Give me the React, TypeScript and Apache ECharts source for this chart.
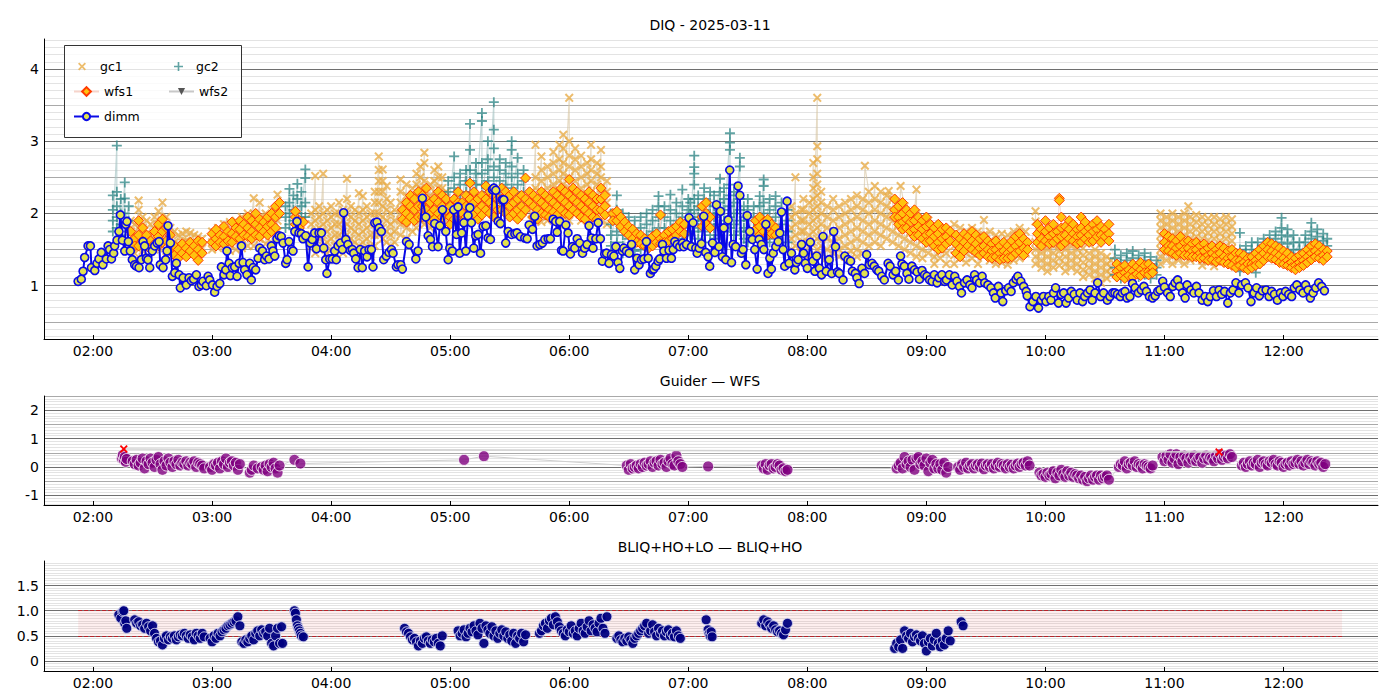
import React, { useEffect, useRef } from "react";
import * as echarts from "echarts";

// ---------- text ----------
const TITLE_TOP = "DIQ - 2025-03-11";
const TITLE_MID = "Guider \u2014 WFS";
const TITLE_BOT = "BLIQ+HO+LO \u2014 BLIQ+HO";

// ---------- axes (time in minutes after 00:00) ----------
const X_MIN = 95.3;
const X_MAX = 767.6;
const X_TICKS = [120, 180, 240, 300, 360, 420, 480, 540, 600, 660, 720];
const Y_TOP = [0.262, 4.415];
const Y_TOP_TICKS = [1, 2, 3, 4];
const Y_MID = [-1.34, 2.5];
const Y_MID_TICKS = [-1, 0, 1, 2];
const Y_BOT = [-0.2, 1.99];
const Y_BOT_TICKS = [0, 0.5, 1.0, 1.5];

// ---------- DIMM seeing [minute, value] ----------
const dimm: number[][] = [
[112.5,1.06],[114.1,1.09],[115.0,1.20],[115.8,1.39],[117.5,1.55],[118.7,1.55],[119.2,1.25],[120.9,1.21],[122.0,1.31],[123.0,1.37],[124.2,1.46],[125.0,1.29],[126.7,1.37],[127.6,1.55],[128.4,1.50],[129.3,1.37],[130.4,1.45],[130.9,1.55],[132.1,1.63],[133.1,1.75],[133.8,1.98],[134.8,1.63],[136.0,1.48],[136.5,1.85],[137.1,1.89],[137.8,1.61],[138.8,1.48],[139.8,1.36],[141.0,1.29],[141.9,1.27],[143.2,1.25],[144.4,1.36],[145.2,1.61],[146.0,1.55],[146.9,1.38],[147.7,1.36],[148.6,1.25],[149.9,1.48],[151.1,1.55],[152.3,1.59],[153.3,1.61],[153.9,1.29],[155.3,1.25],[156.6,1.36],[157.3,1.48],[157.8,1.83],[159.0,1.59],[160.0,1.13],[161.2,1.18],[162.0,1.31],[163.4,1.15],[164.0,0.97],[165.4,1.11],[167.0,1.01],[168.4,1.11],[169.6,1.07],[170.7,1.09],[172.1,1.15],[173.4,0.99],[174.6,1.01],[175.4,1.06],[177.1,1.00],[178.0,1.13],[178.8,1.08],[180.2,1.01],[181.3,0.91],[182.5,0.99],[183.9,1.03],[184.7,1.26],[186.0,1.15],[186.9,1.22],[187.5,1.48],[188.6,1.31],[189.2,1.14],[190.2,1.25],[191.4,1.26],[192.6,1.13],[193.6,1.31],[194.8,1.55],[195.6,1.32],[196.4,1.22],[197.6,1.15],[199.0,1.31],[199.8,1.08],[200.7,1.25],[202.0,1.22],[203.2,1.38],[204.0,1.52],[205.4,1.48],[206.5,1.36],[207.4,1.41],[208.7,1.37],[209.9,1.55],[210.7,1.48],[211.6,1.41],[212.7,1.65],[213.8,1.69],[214.9,1.68],[215.8,1.59],[217.1,1.31],[217.8,1.36],[218.8,1.61],[220.0,1.50],[220.8,1.48],[221.7,1.75],[222.8,1.89],[223.8,1.73],[225.0,1.72],[225.8,1.65],[227.2,1.69],[228.4,1.26],[229.5,1.59],[230.5,1.64],[231.7,1.73],[232.6,1.51],[233.9,1.73],[235.1,1.73],[236.3,1.52],[237.3,1.36],[237.9,1.17],[239.3,1.37],[240.6,1.37],[241.8,1.48],[242.6,1.36],[243.5,1.55],[244.7,1.59],[245.7,1.50],[246.3,2.01],[247.4,1.64],[248.5,1.57],[249.7,1.49],[250.7,1.50],[251.4,1.45],[252.4,1.37],[253.6,1.25],[254.7,1.50],[255.7,1.25],[256.9,1.48],[258.1,1.40],[259.1,1.50],[260.3,1.50],[261.1,1.26],[262.0,1.87],[263.1,1.88],[264.2,1.80],[265.3,1.75],[266.5,1.36],[267.8,1.41],[269.2,1.46],[270.4,1.50],[271.2,1.45],[272.9,1.26],[273.7,1.29],
[275.1,1.29],[275.9,1.23],[278.0,1.61],[279.3,1.57],[282.7,1.37],[283.8,1.48],[286.0,2.21],[287.7,1.95],[288.9,1.69],[290.1,1.64],[291.1,1.54],[292.2,1.86],[293.9,1.54],[294.8,1.83],[296.1,2.05],[297.8,1.75],[299.0,1.36],[299.8,1.52],[301.1,1.48],[301.8,2.05],[303.2,1.71],[304.0,2.09],[304.8,1.45],[305.8,1.73],[306.9,1.87],[307.9,1.48],[309.0,1.97],[309.9,2.08],[310.7,1.87],[311.9,1.52],[312.9,1.69],[314.1,1.71],[315.3,1.45],[316.6,1.82],[318.0,1.83],[319.1,1.66],[320.3,1.64],[321.3,2.33],[322.0,2.35],[323.0,2.32],[324.2,1.89],[325.3,1.86],[326.3,2.19],[327.0,2.19],[328.0,1.59],[329.2,1.75],[330.9,1.71],[332.6,1.72],[333.7,1.73],[335.4,1.68],[337.6,1.66],[338.8,1.65],[339.8,1.84],[341.5,1.78],[342.6,1.96],[343.8,1.55],[345.2,1.57],[346.5,1.59],[347.7,1.64],[349.4,1.65],[350.5,1.65],[351.9,1.92],[353.2,1.89],[353.9,1.74],[355.2,1.89],[356.1,1.49],[356.9,1.48],[358.3,1.84],[359.4,1.73],[360.6,1.44],[361.6,1.54],[362.8,1.52],[364.0,1.65],[365.3,1.59],[366.7,1.45],[367.8,1.52],[369.0,1.57],[370.0,1.83],[371.2,1.66],[372.0,1.52],[373.4,1.65],[374.6,1.87],[375.7,1.65],[376.7,1.34],[377.9,1.44],[378.8,1.45],[380.1,1.31],[381.3,1.43],[382.5,1.41],[383.5,1.54],[384.6,1.32],[385.5,1.24],[386.8,1.48],[387.5,1.52],[388.8,1.48],[390.2,1.45],[391.4,1.57],[393.0,1.22],[394.2,1.38],[395.2,1.29],[396.4,1.36],[397.6,1.37],[398.9,1.61],[399.8,1.38],[400.9,1.17],[401.9,1.22],[402.6,1.23],[403.6,1.27],[404.8,1.34],[405.6,1.37],[407.0,1.57],[407.7,1.48],[409.0,1.38],[410.3,1.49],[411.5,1.38],[412.4,1.50],[413.2,1.61],[414.4,1.57],[415.7,1.54],[417.1,1.59],[417.7,1.54],[419.1,1.57],[420.4,1.94],[421.6,1.54],[422.4,1.87],[423.8,1.52],[424.5,1.45],[425.5,1.52],[426.6,1.58],[427.8,1.96],[428.8,1.46],[430.0,1.40],[430.8,1.27],[432.2,1.59],[433.4,1.46],[434.2,2.12],[435.5,1.54],[436.2,2.03],[437.2,1.40],[437.9,1.80],[438.9,1.36],[440.1,1.91],[440.9,2.60],[441.8,1.32],[442.6,1.57],[443.9,1.54],[445.1,2.38],[446.0,2.25],[446.8,1.45],[447.6,1.50],[449.0,1.29],[449.7,1.97],[451.0,1.75],[452.3,1.64],[453.5,1.50],[454.7,1.23],[455.7,1.64],[456.9,1.57],[458.1,1.50],[459.1,1.85],[460.2,1.17],[461.1,1.38],[461.9,1.23],[462.8,1.45],[464.1,1.54],[465.3,1.61],[466.1,1.73],[467.0,2.02],[467.8,1.50],[468.6,1.27],[469.8,2.17],[470.8,1.31],[472.0,1.45],[473.7,1.22],[474.5,1.32],[475.4,1.36],
[477.1,1.57],[478.1,1.45],[479.0,1.31],[480.0,1.24],[481.5,1.60],[482.8,1.34],[483.8,1.20],[484.7,1.41],[486.1,1.24],[487.2,1.15],[487.9,1.68],[489.5,1.20],[491.0,1.36],[492.3,1.17],[493.3,1.75],[494.2,1.54],[495.2,1.19],[496.1,1.17],[498.0,1.08],[498.9,1.41],[500.5,1.36],[501.8,1.34],[502.7,1.20],[504.2,1.17],[505.0,1.11],[506.1,1.03],[507.5,1.24],[508.8,1.17],[509.9,1.43],[511.3,1.29],[512.6,1.31],[513.7,1.27],[515.0,1.22],[516.0,1.20],[517.5,1.13],[518.8,1.08],[520.7,1.31],[521.7,1.27],[523.2,1.15],[524.5,1.20],[525.9,1.08],[527.0,1.41],[527.7,1.30],[528.9,1.27],[530.2,1.17],[531.2,1.09],[532.7,1.27],[534.0,1.22],[535.3,1.19],[536.5,1.09],[537.8,1.21],[539.1,1.15],[540.3,1.13],[541.6,1.08],[542.9,1.06],[544.0,1.15],[545.4,1.04],[546.3,1.11],[547.8,1.15],[549.2,1.06],[550.1,1.08],[551.6,1.15],[553.0,1.01],[554.3,1.13],[555.4,1.06],[556.7,0.99],[557.7,0.90],[559.2,1.04],[560.5,1.08],[561.9,1.01],[563.0,0.97],[564.3,1.15],[565.3,1.08],[566.8,1.04],[568.1,1.13],[569.4,1.04],[571.0,1.01],[572.5,0.97],[573.8,0.90],[574.7,0.83],[576.3,0.99],[577.6,0.90],[578.5,0.78],[580.0,0.93],[581.4,0.97],[582.7,0.92],[583.8,1.04],[585.2,1.09],[586.1,1.13],[587.6,1.06],[589.0,0.99],[590.3,0.92],[590.8,0.86],[592.2,0.71],[593.7,0.78],[595.2,0.85],[596.5,0.69],[597.9,0.80],[599.0,0.85],[600.3,0.78],[601.7,0.85],[602.8,0.80],[604.1,0.90],[605.1,0.97],[606.6,0.76],[607.9,0.88],[609.2,0.90],[610.4,0.76],[611.7,0.83],[613.0,0.92],[614.5,0.88],[616.0,0.80],[617.4,0.90],[618.7,0.78],[619.8,0.85],[621.2,0.90],[622.5,0.94],[623.6,0.80],[625.0,0.90],[626.3,1.04],[627.8,0.85],[629.3,0.90],[631.2,0.80],[632.5,0.85],[633.9,0.90],[635.0,0.90],[636.3,0.88],[637.7,0.85],[638.8,0.90],[640.1,0.92],[641.1,0.83],[642.6,0.85],[643.9,1.03],[645.2,0.97],[646.8,0.90],[648.3,0.94],[649.6,0.99],[650.9,0.92],[652.4,0.85],[654.0,0.83],[655.3,0.86],[656.6,0.92],[657.7,0.94],[659.1,1.06],[660.0,0.98],[661.5,0.90],[662.9,0.85],[664.2,0.99],[665.3,1.04],[666.6,1.08],[667.6,0.99],[669.1,0.90],[670.4,0.83],[671.4,1.01],[673.3,0.94],[674.8,0.90],[676.1,0.99],[677.4,0.90],[679.0,0.80],[680.5,0.85],[681.8,0.78],[683.1,0.85],[684.7,0.93],[686.2,0.85],[687.5,0.94],[688.8,0.88],[690.3,0.92],[691.9,0.76],[693.2,0.90],[694.5,0.94],[696.0,1.04],[697.5,0.90],[698.9,1.01],[700.8,1.04],[702.1,0.97],[703.6,0.78],[705.1,0.90],[706.4,0.97],[707.8,0.86],[709.3,0.93],[711.2,0.94],[712.7,0.85],[714.0,0.92],[715.4,0.88],[716.9,0.80],[718.4,0.90],[719.7,0.85],[721.0,0.92],[722.6,0.88],[724.1,0.85],[725.4,0.97],[726.7,1.01],[728.2,0.94],[729.8,0.90],[731.1,1.01],[732.4,0.94],[733.5,0.83],[734.9,0.90],[736.2,0.97],[737.7,1.04],[739.2,0.99],[740.6,0.93]
];

// ---------- guide camera 1 [minute, values at that minute...] ----------
const gc1Rows: number[][] = [
[139,1.9,1.75,1.6,1.5],[141,1.85,1.7,1.55,1.45],[143,2.18,2.05,1.8,1.65,1.5],[145,1.95,1.8,1.6,1.48],[147,1.9,1.72,1.55],[149,1.85,1.7,1.58,1.47],[151,1.95,1.78,1.62,1.5],[153,2.03,1.85,1.68,1.52],[155,2.15,1.9,1.72,1.55],[157,1.95,1.78,1.6,1.48],[159,1.8,1.65,1.5],[161,1.75,1.6,1.45],[163,1.7,1.58,1.45],[165,1.72,1.6,1.48],[167,1.75,1.62,1.5],[169,1.73,1.6,1.47],[171,1.7,1.58,1.45],[173,1.68,1.55,1.45],[175,1.65,1.52],
[180,1.75,1.6,1.5],[183,1.8,1.65,1.52],[186,1.85,1.7,1.55],[189,1.88,1.72,1.57,1.48],[192,1.9,1.75,1.6,1.5],[195,1.95,1.8,1.65,1.52],[198,2.0,1.85,1.68,1.55],[201,2.21,2.0,1.85,1.7,1.55],[204,2.15,1.95,1.8,1.65],[207,2.0,1.85,1.7,1.58],[210,2.05,1.9,1.75,1.6],[213,2.26,2.05,1.9,1.75],
[230,2.0,1.85,1.7,1.55],[232,2.52,2.05,1.9,1.75,1.6,1.45],[234,2.1,1.95,1.8,1.65,1.5],[236,2.55,2.0,1.85,1.7,1.55],[238,2.05,1.9,1.75,1.6,1.45],[240,2.1,1.95,1.8,1.65,1.5],[242,2.0,1.85,1.7,1.55,1.4],[244,2.15,2.0,1.85,1.7,1.55],[246,2.05,1.9,1.75,1.6,1.45],[248,2.48,2.2,2.0,1.85,1.7,1.55],[250,2.1,1.95,1.8,1.65,1.5],[252,2.05,1.9,1.75,1.6,1.45],[254,2.28,2.0,1.85,1.7,1.55],[256,2.24,2.05,1.9,1.75,1.6,1.45],[258,2.1,1.95,1.8,1.65,1.5],[260,2.0,1.85,1.7,1.55,1.4],[262,2.3,2.15,2.0,1.85,1.7,1.55],[264,2.79,2.6,2.45,2.3,2.15,2.0,1.85,1.7],[266,2.61,2.45,2.3,2.1,1.95,1.8,1.65],[268,2.38,2.2,2.05,1.9,1.75,1.6],[270,2.15,2.0,1.85,1.7,1.55],[272,2.05,1.9,1.75,1.6],
[275,2.47,2.3,2.15,2.0,1.85,1.7],[278,2.4,2.25,2.1,1.95,1.8,1.65],[281,2.35,2.2,2.05,1.9,1.75],[283,2.55,2.4,2.25,2.1,1.95,1.8],[285,2.65,2.5,2.35,2.2,2.05,1.9],[287,2.84,2.7,2.45,2.3,2.15,2.0,1.85],[290,2.4,2.25,2.1,1.95,1.8],[292,2.6,2.45,2.3,2.15,2.0,1.85],[294,2.65,2.5,2.35,2.2,2.05,1.9],[296,2.5,2.35,2.2,2.05,1.9],[298,2.3,2.15,2.0,1.9],
[341,2.3,2.15,2.0,1.9],[343,2.95,2.5,2.35,2.2,2.05,1.9],[346,2.79,2.6,2.45,2.3,2.15,2.0,1.88],[349,2.65,2.5,2.35,2.2,2.05,1.9],[352,2.85,2.7,2.55,2.4,2.25,2.1,1.95],[355,2.95,2.75,2.6,2.45,2.3,2.15,2.0,1.85],[357,3.09,2.9,2.7,2.55,2.4,2.25,2.1,1.95],[360,3.6,3.0,2.8,2.65,2.5,2.35,2.2,2.05,1.9],[363,2.9,2.75,2.6,2.45,2.3,2.15,2.0],[366,2.8,2.65,2.5,2.35,2.2,2.05,1.9],[369,2.7,2.55,2.4,2.25,2.1,1.95],[371,2.95,2.75,2.6,2.45,2.3,2.15,2.0,1.88],[374,2.7,2.55,2.4,2.25,2.1,1.95],[376,2.88,2.65,2.5,2.35,2.2,2.05,1.9],[379,2.45,2.3,2.15,2.0,1.85],
[472,2.1,1.95,1.8,1.65,1.5],[474,2.5,2.0,1.85,1.7,1.55],[477,2.05,1.9,1.75,1.6,1.45],[478,2.2,2.05,1.9,1.75,1.6],[481,2.15,2.0,1.85,1.7,1.55,1.42],[483,2.7,2.5,2.35,2.2,2.05,1.9,1.75,1.6],[485,3.6,2.93,2.75,2.55,2.4,2.25,2.1,1.95,1.8,1.65,1.5],[487,2.3,2.15,2.0,1.85,1.7,1.55,1.4],[490,2.1,1.95,1.8,1.65,1.5,1.38],[493,2.2,2.05,1.9,1.75,1.6,1.45],[496,2.1,1.95,1.8,1.65,1.5,1.4],[499,2.15,2.0,1.85,1.7,1.55,1.42],[502,2.2,2.05,1.9,1.75,1.6,1.48,1.38],[505,2.25,2.1,1.95,1.8,1.65,1.5,1.4],[508,2.2,2.05,1.9,1.75,1.6,1.45],[509,2.66],[511,2.3,2.15,2.0,1.85,1.7,1.55],[514,2.38,2.2,2.05,1.9,1.75,1.6],[517,2.3,2.15,2.0,1.85,1.7,1.55],[520,2.25,2.1,1.95,1.8,1.65],[521,2.31],[523,2.2,2.05,1.9,1.75,1.6],[526,2.15,2.0,1.85,1.7,1.55],[527,2.38],[529,2.1,1.95,1.8,1.65,1.5],[532,2.05,1.9,1.75,1.6,1.45],[535,2.33,2.0,1.85,1.7,1.55,1.4],[538,1.95,1.8,1.65,1.5,1.38],[541,1.9,1.75,1.6,1.45],[544,1.85,1.7,1.55,1.4,1.3],[547,1.8,1.65,1.5,1.38],[550,1.75,1.6,1.45,1.3],
[554,1.85,1.7,1.55,1.42,1.3],[557,1.8,1.65,1.5,1.38],[560,1.75,1.6,1.45,1.32],[563,1.8,1.65,1.5,1.38],[566,1.75,1.6,1.45,1.3],[569,1.91,1.7,1.55,1.42],[572,1.75,1.6,1.48,1.35],[575,1.7,1.55,1.42,1.3],[578,1.72,1.58,1.45,1.32],[581,1.7,1.55,1.4,1.29],[584,1.75,1.6,1.48,1.35],[587,1.8,1.65,1.5,1.38],[590,1.75,1.6,1.45],
[595,2.03,1.89,1.6,1.5,1.4,1.3],[598,1.55,1.45,1.35,1.25],[601,1.6,1.5,1.4,1.3,1.2],[604,1.55,1.45,1.35,1.25],[607,1.58,1.48,1.38,1.28],[610,1.6,1.5,1.4,1.3,1.2],[613,1.55,1.45,1.35,1.25],[616,1.5,1.4,1.3,1.2],[619,1.52,1.42,1.32,1.22,1.12],[622,1.45,1.35,1.25,1.15],[625,1.5,1.4,1.3,1.2,1.1],[628,1.45,1.35,1.25,1.15,1.04],[631,1.4,1.3,1.2,1.1],[633,1.35,1.25,1.15],
[658,2.0,1.9,1.8,1.7,1.6,1.5,1.4,1.3],[661,1.95,1.85,1.75,1.65,1.55,1.45,1.35],[664,2.0,1.9,1.8,1.7,1.6,1.5,1.4,1.3],[667,1.95,1.85,1.75,1.65,1.55,1.45,1.35],[670,2.0,1.9,1.8,1.7,1.6,1.5,1.4,1.3],[672,2.1],[673,1.95,1.85,1.75,1.65,1.55,1.45,1.35],[676,1.98,1.88,1.78,1.68,1.58,1.48,1.38],[679,1.95,1.85,1.75,1.65,1.55,1.45,1.35,1.28],[682,1.93,1.83,1.73,1.63,1.53,1.43,1.33],[685,1.95,1.85,1.75,1.65,1.55,1.45,1.35,1.27],[688,1.92,1.82,1.72,1.62,1.52,1.42,1.32],[691,1.95,1.85,1.75,1.65,1.55,1.45,1.35],[694,1.92,1.82,1.72,1.62,1.52,1.42]
];

// ---------- guide camera 2 ----------
const gc2Rows: number[][] = [
[130,2.25,2.05,1.9,1.75],[132,2.94,2.3,2.1,1.95,1.8],[134,2.2,2.0,1.85,1.7],[136,2.43,2.21,2.0,1.85],[138,2.1,1.9,1.75],
[217,2.1,1.95,1.8],[219,2.34,2.15,2.0,1.85],[221,2.25,2.05,1.9,1.78],[223,2.41,2.2,2.0,1.85],[225,2.3,2.1,1.95],[227,2.61,2.49,2.15,1.95],
[299,2.45,2.3,2.15,2.0],[302,2.79,2.5,2.35,2.2,2.05],[305,2.55,2.4,2.25,2.1,1.95],[308,2.6,2.45,2.3,2.15,2.0],[310,3.24,2.88,2.6,2.45,2.3,2.15],[313,2.7,2.55,2.4,2.25,2.1],[316,3.39,3.28,2.7,2.55,2.4,2.25,2.1],[319,3.0,2.75,2.6,2.45,2.3,2.15],[322,3.54,3.16,2.9,2.65,2.5,2.35,2.2],[325,2.75,2.6,2.45,2.3,2.15],[328,2.7,2.55,2.4,2.25,2.1],[331,3.0,2.88,2.65,2.5,2.35,2.2],[334,2.77,2.55,2.4,2.25,2.1],[337,2.6,2.45,2.3,2.15],
[381,2.0,1.85,1.7,1.55],[384,2.25,2.05,1.9,1.75,1.6],[387,2.0,1.85,1.7,1.55,1.45],[390,1.95,1.8,1.65,1.5],[393,1.9,1.75,1.6,1.48],[396,1.95,1.8,1.65,1.5],[399,2.0,1.85,1.7,1.55],[402,2.05,1.9,1.75,1.6],[405,2.24,2.1,1.95,1.8,1.65],[408,2.1,1.95,1.8,1.65],[411,2.26,2.05,1.9,1.75,1.6],[414,2.15,2.0,1.85,1.7],[417,2.33,2.1,1.95,1.8,1.65],[420,2.2,2.05,1.9,1.75],
[421,2.15,2.0,1.85,1.7],[423,2.8,2.64,2.55,2.4,2.2,2.05,1.9,1.75],[425,2.25,2.1,1.95,1.8,1.65],[428,2.35,2.2,2.05,1.9,1.75,1.6],[431,2.3,2.15,2.0,1.85,1.7],[433,2.25,2.1,1.95,1.8,1.65],[436,2.48,2.3,2.15,2.0,1.85,1.7],[438,2.35,2.2,2.05,1.9,1.75],[441,3.11,2.98,2.88,2.4,2.25,2.1,1.95,1.8],[443,2.3,2.15,2.0,1.85,1.7],[446,2.77,2.65,2.2,2.05,1.9,1.75],[448,2.1,1.95,1.8,1.65],[450,2.2,2.05,1.9,1.75,1.6],[453,2.1,1.95,1.8,1.65],[456,2.24,2.1,1.95,1.8,1.65],[458,2.47,2.38,2.15,2.0,1.85,1.7],[461,2.2,2.05,1.9,1.75,1.6],[464,2.24,2.1,1.95,1.8,1.65],[467,2.15,2.0,1.85,1.7],[470,2.05,1.9,1.75,1.6],
[635,1.5,1.38,1.25,1.15],[638,1.42,1.3,1.2,1.1],[641,1.45,1.35,1.22,1.12],[644,1.48,1.38,1.28,1.18],[647,1.42,1.32,1.22,1.12],[650,1.45,1.35,1.25,1.15],[653,1.4,1.3,1.2,1.1],[656,1.35,1.25,1.15],
[698,1.73,1.5,1.4,1.3,1.2],[701,1.55,1.45,1.35,1.25],[704,1.6,1.5,1.4,1.3],[706,1.18],[707,1.6,1.5,1.4,1.3],[710,1.65,1.55,1.45,1.35],[713,1.7,1.6,1.5,1.4],[716,1.75,1.65,1.55,1.45],[719,1.94,1.8,1.7,1.6,1.5],[722,1.78,1.68,1.58,1.48],[725,1.7,1.6,1.5,1.4],[728,1.6,1.5,1.4,1.3],[731,1.7,1.6,1.5,1.4],[734,1.87,1.75,1.65,1.55,1.45],[737,1.78,1.68,1.58,1.48],[740,1.72,1.62,1.52],[742,1.65,1.55]
];

// ---------- wavefront sensor 1 ----------
const wfs1Rows: number[][] = [
[139,1.75,1.6],[141,1.65,1.55],[143,1.9,1.7,1.55],[145,1.8,1.62],[147,1.7,1.55],[149,1.62,1.5],[151,1.75,1.58],[153,1.85,1.68,1.55],[155,1.92,1.75,1.6],[157,1.8,1.62],[159,1.7,1.52],[161,1.55,1.42],[163,1.5,1.38],[165,1.58,1.45],[167,1.52,1.4],[169,1.6,1.48],[171,1.55,1.42],[173,1.62,1.5,1.35],[175,1.6,1.45],
[180,1.72,1.6],[182,1.78,1.65,1.55],[184,1.7,1.6],[186,1.82,1.68,1.58],[188,1.75,1.62],[190,1.88,1.72,1.6],[192,1.8,1.68],[194,1.9,1.78,1.65],[196,1.85,1.7],[198,1.95,1.8,1.68],[200,1.9,1.75,1.65],[202,2.0,1.85,1.7],[204,1.92,1.8,1.68],[206,1.88,1.75],[208,1.95,1.82,1.7],[210,2.0,1.85,1.75],[212,2.1,1.95,1.8],[214,2.15,2.0],
[222,1.95,2.03,1.85],[224,1.9,1.8],[226,1.88],
[276,2.05,1.92],[278,2.15,2.0,1.88],[280,2.25,2.1,1.95],[282,2.2,2.05,1.9],[284,2.3,2.1,1.95],[286,2.25,2.1,1.95],[288,2.35,2.2,2.05],[290,2.15,2.0,1.9],[292,2.2,2.05,1.92],[294,2.3,2.15,2.0],[296,2.25,2.1,1.95],[298,2.2,2.05],[300,2.1,1.95,1.85],[302,2.2,2.05,1.92],[304,2.3,2.15,2.0],[306,2.15,2.0,1.88],[308,2.25,2.1,1.95],[310,2.42,2.2,2.05,1.9],[312,2.3,2.15,2.0],[314,2.2,2.05,1.92],[316,2.25,2.1,1.98],[318,2.38,2.2,2.05],[320,2.3,2.15,2.0],[322,2.25,2.1,1.95],[324,2.2,2.05,1.9],[326,2.35,2.2,2.05],[328,2.3,2.15,2.0],[330,2.25,2.1,1.95],[332,2.3,2.15,2.0],[334,2.2,2.05,1.92],[336,2.25,2.1,1.98],[338,2.49,2.2,2.05],[340,2.3,2.15],
[342,2.25,2.1,1.95],[344,2.2,2.05,1.92],[346,2.3,2.15,2.0],[348,2.25,2.1,1.98],[350,2.2,2.05,1.95],[352,2.3,2.15,2.02],[354,2.25,2.1,1.98],[356,2.35,2.2,2.05],[358,2.3,2.15,2.0],[360,2.47,2.25,2.1,1.98],[362,2.35,2.2,2.05],[364,2.3,2.15,2.0],[366,2.25,2.1,1.95],[368,2.2,2.05,1.92],[370,2.3,2.15,2.0],[372,2.25,2.1,1.95],[374,2.2,2.05,1.92],[376,2.35,2.2,2.05],[378,2.25,2.1,1.98],
[382,2.0,1.9],[384,2.03,1.9],[386,1.95,1.82],[388,1.88,1.75],[390,1.82,1.7],[392,1.78,1.65],[394,1.72,1.6],[396,1.7,1.58],[398,1.65,1.55],[400,1.62,1.52],[402,1.68,1.55],[404,1.72,1.6],[406,1.98,1.65,1.58],[408,1.7,1.6],[410,1.75,1.62],[412,1.78,1.65],[414,1.82,1.7],[416,1.88,1.75],[418,1.85,1.72],
[427,2.1,1.95,1.82],[429,2.15,2.0,1.85],[431,1.95,1.8],
[454,1.9,1.78],[456,1.95,1.82,1.7],[458,1.88,1.75],[460,1.92,1.8,1.7],[462,1.85,1.72],[464,1.8,1.7],
[524,2.2,2.05,1.95],[526,2.1,1.95,1.85],[528,2.15,2.0,1.88,1.78],[530,2.05,1.92,1.8],[532,2.0,1.88,1.75],[534,2.05,1.9,1.78,1.68],[536,1.95,1.82,1.7],[538,1.9,1.78,1.65],[540,1.95,1.82,1.7,1.6],[542,1.85,1.72,1.62],[544,1.8,1.68,1.55],[546,1.85,1.72,1.6,1.5],[548,1.78,1.65,1.52],[550,1.8,1.68,1.58],[552,1.75,1.62],
[555,1.7,1.58,1.45],[557,1.65,1.52,1.4],[559,1.72,1.6,1.48],[561,1.68,1.55],[563,1.75,1.62,1.5],[565,1.7,1.58,1.46],[567,1.65,1.52,1.42],[569,1.68,1.55,1.45],[571,1.62,1.5,1.4],[573,1.58,1.48,1.38],[575,1.62,1.5,1.4],[577,1.55,1.45,1.36],[579,1.6,1.48,1.38],[581,1.55,1.45,1.38],[583,1.62,1.5,1.4],[585,1.68,1.55,1.45],[587,1.72,1.6,1.48],[589,1.65,1.52,1.42],[591,1.6,1.5],
[596,1.85,1.72,1.6],[598,1.78,1.65,1.55],[600,1.9,1.75,1.62],[602,1.8,1.68,1.58],[604,1.85,1.72,1.6],[606,1.75,1.65],[607,2.21,2.18],[608,1.95,1.8,1.68,1.55],[610,1.82,1.7,1.6],[612,1.9,1.78,1.65],[614,1.85,1.72,1.62],[616,1.78,1.68,1.58],[618,1.95,1.8,1.7,1.6],[620,1.88,1.75,1.65],[622,1.8,1.7,1.6],[624,1.85,1.75,1.62],[626,1.9,1.78,1.68],[628,1.82,1.7,1.6],[630,1.78,1.68],[632,1.85,1.72,1.62],
[636,1.3,1.2,1.12],[638,1.25,1.15],[640,1.28,1.18,1.1],[642,1.22,1.14],[644,1.3,1.2,1.12],[646,1.26,1.16],[648,1.32,1.22,1.14],[650,1.28,1.18],[652,1.3,1.2,1.15],[654,1.25,1.18],
[660,1.72,1.6,1.5],[662,1.68,1.55,1.48],[664,1.65,1.55,1.45],[666,1.62,1.52,1.42],[668,1.68,1.55,1.45],[670,1.6,1.5,1.42],[672,1.62,1.52,1.42],[674,1.58,1.48,1.4],[676,1.6,1.5,1.4],[678,1.55,1.45,1.38],[680,1.58,1.48,1.38],[682,1.52,1.42,1.35],[684,1.55,1.45,1.36],[686,1.5,1.42,1.33],[688,1.55,1.45,1.35],[690,1.52,1.4,1.32],[692,1.48,1.38,1.3],[694,1.5,1.4,1.28],[696,1.45,1.35,1.25],
[698,1.45,1.35,1.28],[700,1.42,1.32,1.25],[702,1.38,1.3,1.22],[704,1.4,1.3,1.25],[706,1.45,1.35,1.28],[708,1.5,1.4,1.3],[710,1.55,1.45,1.35],[712,1.6,1.5,1.4],[714,1.58,1.48,1.38],[716,1.55,1.45,1.36],[718,1.52,1.42,1.32],[720,1.48,1.38,1.3],[722,1.45,1.35,1.28],[724,1.4,1.32,1.25],[726,1.38,1.28,1.22],[728,1.42,1.32,1.25],[730,1.45,1.35,1.28],[732,1.5,1.4,1.32],[734,1.55,1.45,1.36],[736,1.58,1.48,1.4],[738,1.55,1.45,1.38],[740,1.5,1.42,1.35],[742,1.48,1.4]
];

const wfs2: number[][] = [];

// ---------- Guider - WFS ----------
const guiderWfs: number[][] = [
[134.5,0.3],[135,0.42],[135.5,0.25],[136,0.35],[136.5,0.18],[137,0.28],
[140,0.2],[141,0.1],[142,0.25],[143,0.05],[144,0.15],[145,0.3],[146,-0.05],[147,0.2],[148,0.1],[149,0.3],[150,0.15],[151,0.0],[152,0.25],[153,0.35],[154,0.1],[155,-0.1],[156,0.2],[157,0.05],[158,0.3],[159,0.15],[160,0.0],[161,0.2],[162,0.1],[163,0.25],[164,0.05],[165,0.15],[166,0.1],[167,0.2],[168,0.05],[169,0.15],[170,0.1],[171,0.2],[172,0.0],[173,0.15],[174,0.1],[175,0.05],[176,-0.05],
[179,0.0],[180,-0.1],[181,0.1],[182,0.05],[183,0.15],[184,-0.05],[185,0.2],[186,0.1],[187,0.3],[188,0.0],[189,0.15],[190,0.2],[191,0.05],[192,0.15],[193,-0.1],[194,0.1],
[199,-0.2],[200,-0.1],[201,0.05],[203,-0.05],[205,0.0],[206,-0.1],[207,0.05],[208,-0.15],[209,0.1],[210,0.0],[211,0.15],[212,-0.05],[213,-0.2],[214,0.05],
[221.5,0.25],[224.5,0.12],[307,0.25],[317,0.38],
[389,0.05],[390,-0.1],[391,0.1],[392,-0.05],[393,0.0],[394,0.05],[395,-0.05],[396,0.1],[397,0.0],[398,0.15],[399,0.05],[400,0.1],[401,0.2],[402,0.0],[403,0.15],[404,0.2],[405,0.05],[406,0.25],[407,0.1],[408,0.15],[409,0.0],[410,0.2],[411,0.3],[412,0.1],[413,0.05],[414,0.4],[415,0.2],[416,0.1],[417,0.0],
[430,0.02],
[457,0.05],[458,-0.05],[459,0.1],[460,-0.1],[461,0.05],[462,0.1],[463,-0.05],[464,0.0],[465,0.1],[466,0.05],[467,-0.1],[468,-0.05],[469,-0.15],[470,-0.1],
[525,-0.05],[526,0.05],[527,0.15],[528,-0.05],[529,0.35],[530,0.1],[531,0.2],[532,0.0],[533,0.25],[534,-0.1],[535,0.3],[536,0.35],[537,0.1],[538,0.2],[539,0.05],[540,0.3],[541,-0.15],[542,0.15],[543,0.25],[544,-0.05],[545,0.1],[546,-0.05],[547,0.1],[548,-0.1],[549,0.15],[550,-0.2],[551,0.0],
[556,0.0],[557,-0.1],[558,0.1],[559,0.0],[560,0.15],[561,-0.05],[562,0.05],[563,0.1],[564,-0.05],[565,0.05],[566,0.1],[567,0.0],[568,0.12],[569,-0.08],[570,0.05],[571,0.1],[572,0.0],[573,0.1],[574,-0.05],[575,0.05],[576,0.15],[577,0.0],[578,0.1],[579,0.05],[580,-0.05],[581,0.1],[582,0.0],[583,0.08],[584,-0.05],[585,0.05],[586,0.12],[587,0.0],[588,0.1],[589,0.15],[590,0.05],[591,0.2],[592,0.05],
[597,-0.2],[598,-0.3],[599,-0.25],[600,-0.35],[601,-0.2],[602,-0.3],[603,-0.25],[604,-0.15],[605,-0.4],[606,-0.2],[607,-0.3],[608,-0.1],[609,-0.25],[610,-0.35],[611,-0.15],[612,-0.3],[613,-0.2],[614,-0.35],[615,-0.25],[616,-0.3],[617,-0.4],[618,-0.3],[619,-0.45],[620,-0.35],[621,-0.5],[622,-0.4],[623,-0.3],[624,-0.45],[625,-0.35],[626,-0.3],[627,-0.45],[628,-0.3],[629,-0.4],[630,-0.35],[631,-0.3],[632,-0.45],
[637,0.0],[638,0.1],[639,0.05],[640,0.2],[641,-0.05],[642,0.1],[643,0.15],[644,0.05],[645,0.2],[646,0.0],[647,0.1],[648,0.05],[649,-0.05],[650,0.1],[651,0.05],[652,0.0],[653,-0.05],[654,0.05],
[659,0.35],[660,0.2],[661,0.4],[662,0.25],[663,0.45],[664,0.15],[665,0.3],[666,0.45],[667,0.1],[668,0.35],[669,0.2],[670,0.4],[671,0.3],[672,0.15],[673,0.35],[674,0.25],[675,0.4],[676,0.2],[677,0.3],[678,0.35],[679,0.15],[680,0.3],[681,0.4],[682,0.25],[683,0.35],[684,0.3],[685,0.2],[686,0.4],[687,0.3],[688,0.45],[689,0.25],[690,0.35],[691,0.4],[692,0.3],[693,0.45],[694,0.35],
[699,0.05],[700,0.15],[701,0.0],[702,0.1],[703,0.2],[704,0.05],[705,0.15],[706,0.1],[707,0.25],[708,0.0],[709,0.15],[710,0.2],[711,0.1],[712,0.05],[713,0.2],[714,0.15],[715,0.25],[716,0.1],[717,0.05],[718,0.2],[719,0.15],[720,0.0],[721,0.1],[722,0.15],[723,0.05],[724,0.2],[725,0.1],[726,0.15],[727,0.25],[728,0.1],[729,0.2],[730,0.05],[731,0.15],[732,0.25],[733,0.1],[734,0.2],[735,0.15],[736,0.05],[737,0.2],[738,0.1],[739,0.15],[740,0.0],[741,0.1]
];
const guiderFlags: number[][] = [[135.5, 0.63], [687.5, 0.53]];

// ---------- BLIQ+HO+LO - BLIQ+HO ----------
const bliq: number[][] = [
[133,0.92],[134,0.85],[135,0.98],[135.5,1.0],[136,0.75],[136.5,0.8],[137,0.65],
[141,0.82],[142,0.75],[143,0.78],[144,0.7],[145,0.72],[146,0.65],[147,0.75],[148,0.68],[149,0.6],[150,0.7],[151,0.55],[152,0.45],[153,0.38],[154,0.4],[155,0.32],[156,0.45],[157,0.5],[158,0.42],[159,0.48],[160,0.45],[161,0.5],[162,0.42],[163,0.48],[164,0.52],[165,0.5],[166,0.55],[167,0.5],[168,0.45],[169,0.52],[170,0.48],[171,0.42],[172,0.55],[173,0.5],[174,0.45],[175,0.55],[176,0.48],
[179,0.45],[180,0.38],[181,0.5],[182,0.45],[183,0.55],[184,0.5],[185,0.58],[186,0.62],[187,0.65],[188,0.7],[189,0.72],[190,0.75],[191,0.78],[192,0.8],[193,0.88],[194,0.7],
[195,0.38],[196,0.35],[197,0.42],[198,0.38],[199,0.45],[200,0.5],[201,0.42],[202,0.55],[203,0.6],[204,0.5],[205,0.62],[206,0.55],[207,0.58],[208,0.5],[209,0.65],[210,0.35],[211,0.3],[212,0.5],[213,0.65],[214,0.35],[215,0.68],[215.5,0.35],
[221.5,1.0],[222,0.95],[222.5,0.82],[223,0.7],[223.5,0.65],[224,0.6],[224.5,0.55],[225,0.5],[226,0.48],
[277,0.65],[278,0.58],[279,0.55],[280,0.48],[281,0.42],[282,0.45],[283,0.38],[284,0.3],[285,0.4],[286,0.35],[287,0.45],[288,0.48],[289,0.4],[290,0.35],[291,0.42],[292,0.38],[293,0.45],[294,0.35],[295,0.3],[296,0.5],
[304,0.6],[305,0.5],[306,0.55],[307,0.62],[308,0.48],[309,0.55],[310,0.65],[311,0.58],[312,0.7],[313,0.6],[314,0.52],[315,0.75],[316,0.65],[317,0.35],[318,0.7],[319,0.62],[320,0.55],[321,0.68],[322,0.5],[323,0.6],[324,0.45],[325,0.55],[326,0.62],[327,0.5],[328,0.58],[329,0.45],[330,0.52],[331,0.4],[332,0.55],[333,0.35],[334,0.5],[335,0.45],[336,0.55],[337,0.38],[338,0.52],
[345,0.55],[346,0.6],[347,0.7],[348,0.75],[349,0.65],[350,0.8],[351,0.85],[352,0.72],[353,0.88],[354,0.78],[355,0.68],[356,0.6],[357,0.55],[358,0.5],[359,0.62],[360,0.58],[361,0.7],[362,0.55],[363,0.6],[364,0.5],[365,0.65],[366,0.75],[367,0.6],[368,0.55],[369,0.68],[370,0.8],[371,0.6],[372,0.72],[373,0.65],[374,0.58],[375,0.75],[376,0.85],[377,0.65],[378,0.55],[379,0.88],
[384,0.45],[385,0.5],[386,0.42],[387,0.38],[388,0.45],[389,0.4],[390,0.48],[391,0.42],[392,0.35],[393,0.45],[394,0.5],[395,0.55],[396,0.6],[397,0.65],[398,0.7],[399,0.75],[400,0.55],[401,0.6],[402,0.72],[403,0.58],[404,0.5],[405,0.65],[406,0.55],[407,0.6],[408,0.5],[409,0.58],[410,0.62],[411,0.5],[412,0.55],[413,0.48],[414,0.6],[415,0.5],[416,0.45],
[429,0.82],[430,0.62],[430.5,0.55],[431,0.5],[431.5,0.58],[432,0.48],
[457,0.75],[458,0.82],[459,0.7],[460,0.78],[461,0.72],[462,0.65],[463,0.7],[464,0.62],[465,0.58],[466,0.6],[467,0.55],[468,0.52],[469,0.62],[470,0.75],
[524,0.25],[525,0.35],[526,0.28],[527,0.42],[528,0.25],[529,0.6],[530,0.5],[531,0.45],[532,0.55],[533,0.38],[534,0.48],[535,0.52],[536,0.45],[537,0.4],[538,0.5],[539,0.35],[540,0.2],[541,0.38],[542,0.45],[543,0.3],[544,0.42],[545,0.55],[546,0.35],[547,0.28],[548,0.4],[549,0.32],[550,0.45],[551,0.6],[552,0.4],
[557.5,0.78],[558.5,0.7]
];
const BAND_START = 112.5;
const BAND_END = 749.5;
const BAND_LO = 0.5;
const BAND_HI = 1.0;

// ---------- helpers ----------
const FONT = "DejaVu Sans";
const X_PATH = "path://M0,1.6L1.6,0L5,3.4L8.4,0L10,1.6L6.6,5L10,8.4L8.4,10L5,6.6L1.6,10L0,8.4L3.4,5Z";
const PLUS_PATH = "path://M4.1,0H5.9V4.1H10V5.9H5.9V10H4.1V5.9H0V4.1H4.1Z";
const TRI_DOWN = "path://M0,0L10,0L5,9Z";

function rowsToPoints(rows: number[][], gap: number) {
  const out: any[] = [];
  let prev: number | null = null;
  for (const r of rows) {
    if (prev !== null && r[0] - prev > gap) out.push([(prev + r[0]) / 2, "-"]);
    for (const v of r.slice(1)) out.push([r[0], v]);
    prev = r[0];
  }
  return out;
}

function gridLineData(min: number, max: number, step: number, major: number, mid: number | null) {
  const out: any[] = [];
  const k0 = Math.ceil(min / step - 1e-9);
  const k1 = Math.floor(max / step + 1e-9);
  for (let k = k0; k <= k1; k++) {
    const v = +(k * step).toFixed(4);
    const isMajor = Math.abs(v / major - Math.round(v / major)) < 1e-6;
    const isMid = mid !== null && Math.abs(v / mid - Math.round(v / mid)) < 1e-6;
    out.push({
      yAxis: v,
      lineStyle: { color: isMajor ? "#6f6f6f" : isMid ? "#a9a9a9" : "#e3e3e3", width: 1, type: "solid" },
    });
  }
  return out;
}

function fmtTime(v: number) {
  const h = Math.floor(v / 60);
  const m = Math.round(v - h * 60);
  return String(h).padStart(2, "0") + ":" + String(m).padStart(2, "0");
}

const GRIDS = [
  { left: 44, top: 39, width: 1334, height: 300 },
  { left: 44, top: 396, width: 1334, height: 109 },
  { left: 44, top: 561, width: 1334, height: 110 },
];

function gridSeries(i: number, min: number, max: number, step: number, major: number, mid: number | null) {
  return {
    type: "line",
    name: "grid" + i,
    xAxisIndex: i,
    yAxisIndex: i,
    data: [],
    silent: true,
    z: 0,
    markLine: {
      silent: true,
      z: 0,
      symbol: ["none", "none"],
      label: { show: false },
      emphasis: { disabled: true },
      animation: false,
      data: gridLineData(min, max, step, major, mid),
    },
  };
}

function buildOption(): any {
  const xAxes = GRIDS.map((_, i) => ({
    type: "value",
    gridIndex: i,
    min: X_MIN,
    max: X_MAX,
    axisLine: { show: true, onZero: false, lineStyle: { color: "#000", width: 1 } },
    axisTick: { show: true, inside: true, length: 4, customValues: X_TICKS, lineStyle: { color: "#000" } },
    axisLabel: { customValues: X_TICKS, formatter: fmtTime, fontSize: 14, fontFamily: FONT, color: "#000", margin: 5 },
    splitLine: { show: false },
  }));
  const yDefs = [
    { r: Y_TOP, t: Y_TOP_TICKS, f: (v: number) => String(v) },
    { r: Y_MID, t: Y_MID_TICKS, f: (v: number) => String(v) },
    { r: Y_BOT, t: Y_BOT_TICKS, f: (v: number) => (v === 0 ? "0" : v.toFixed(1)) },
  ];
  const yAxes = yDefs.map((d, i) => ({
    type: "value",
    gridIndex: i,
    min: d.r[0],
    max: d.r[1],
    axisLine: { show: true, onZero: false, lineStyle: { color: "#000", width: 1 } },
    axisTick: { show: false },
    axisLabel: { customValues: d.t, formatter: d.f, fontSize: 14, fontFamily: FONT, color: "#000", margin: 5 },
    splitLine: { show: false },
  }));

  const series: any[] = [
    gridSeries(0, Y_TOP[0], Y_TOP[1], 0.1, 1, 0.5),
    {
      type: "line", name: "gc1", xAxisIndex: 0, yAxisIndex: 0, z: 2,
      data: rowsToPoints(gc1Rows, 4), showAllSymbol: true, connectNulls: false,
      symbol: X_PATH, symbolSize: 9,
      itemStyle: { color: "#e8ad48", opacity: 0.8 },
      lineStyle: { color: "rgba(214,195,158,0.6)", width: 1.2 },
    },
    {
      type: "line", name: "gc2", xAxisIndex: 0, yAxisIndex: 0, z: 2,
      data: rowsToPoints(gc2Rows, 4), showAllSymbol: true, connectNulls: false,
      symbol: PLUS_PATH, symbolSize: 10,
      itemStyle: { color: "#2e8585", opacity: 0.75 },
      lineStyle: { color: "rgba(165,195,195,0.65)", width: 1.2 },
    },
    {
      type: "line", name: "wfs1", xAxisIndex: 0, yAxisIndex: 0, z: 3,
      data: rowsToPoints(wfs1Rows, 6), showAllSymbol: true, connectNulls: false,
      symbol: "diamond", symbolSize: 10,
      itemStyle: { color: "#ffc20e", borderColor: "#ff3a00", borderWidth: 1 },
      lineStyle: { color: "rgba(235,160,140,0.45)", width: 0.8 },
    },
    {
      type: "line", name: "wfs2", xAxisIndex: 0, yAxisIndex: 0, z: 3,
      data: wfs2, symbol: TRI_DOWN, symbolSize: 8,
      itemStyle: { color: "#555" },
      lineStyle: { color: "#c8c8c8", width: 1 },
    },
    {
      type: "line", name: "dimm", xAxisIndex: 0, yAxisIndex: 0, z: 4,
      data: dimm, showAllSymbol: true, symbol: "circle", symbolSize: 8,
      itemStyle: { color: "#e2e24e", borderColor: "#0a0ae6", borderWidth: 1.6 },
      lineStyle: { color: "#0a0ae6", width: 2 },
    },
    gridSeries(1, Y_MID[0], Y_MID[1], 0.1, 1, 0.5),
    {
      type: "line", name: "guider-wfs", xAxisIndex: 1, yAxisIndex: 1, z: 2,
      data: guiderWfs, showAllSymbol: true, symbol: "circle", symbolSize: 11,
      itemStyle: { color: "#800080", borderColor: "#ffffff", borderWidth: 1, opacity: 0.8 },
      lineStyle: { color: "#cfcfcf", width: 1 },
    },
    {
      type: "line", name: "flags", xAxisIndex: 1, yAxisIndex: 1, z: 3,
      data: guiderFlags, symbol: X_PATH, symbolSize: 8,
      itemStyle: { color: "#ff0000" },
      lineStyle: { color: "#d2d2d2", width: 1.5 },
    },
    gridSeries(2, Y_BOT[0], Y_BOT[1], 0.05, 0.5, null),
    {
      type: "scatter", name: "bliq", xAxisIndex: 2, yAxisIndex: 2, z: 3,
      data: bliq, symbol: "circle", symbolSize: 10,
      itemStyle: { color: "#000080", borderColor: "#cfd0ee", borderWidth: 1, opacity: 0.95 },
      markArea: {
        silent: true, z: 1,
        itemStyle: { color: "rgba(240,120,120,0.13)" },
        data: [[{ coord: [BAND_START, BAND_LO] }, { coord: [BAND_END, BAND_HI] }]],
      },
      markLine: {
        silent: true, z: 1,
        symbol: ["none", "none"],
        label: { show: false },
        lineStyle: { color: "#b8232a", width: 1.2, type: [4, 2] },
        data: [
          [{ coord: [BAND_START, BAND_LO] }, { coord: [BAND_END, BAND_LO] }],
          [{ coord: [BAND_START, BAND_HI] }, { coord: [BAND_END, BAND_HI] }],
        ],
      },
    },
  ];

  const legendBase = {
    selectedMode: false,
    padding: 0,
    itemHeight: 9,
    itemWidth: 25,
    z: 10,
    textStyle: { fontSize: 12.5, fontFamily: FONT, color: "#000" },
  };
  const legends = [
    { ...legendBase, data: [{ name: "gc1", icon: X_PATH }], left: 78, itemWidth: 26, itemHeight: 8, top: 60 },
    { ...legendBase, data: [{ name: "gc2", icon: PLUS_PATH }], left: 174, itemWidth: 25, top: 60 },
    { ...legendBase, data: ["wfs1"], left: 73, itemHeight: 11, top: 85 },
    { ...legendBase, data: ["wfs2"], left: 168, top: 85 },
    { ...legendBase, data: ["dimm"], left: 73, top: 110 },
  ];

  const titleStyle = (text: string, y: number) => ({
    type: "text",
    x: 710,
    y,
    z: 10,
    style: { text, fontSize: 14, fontFamily: FONT, fill: "#000", align: "center", verticalAlign: "middle" },
  });

  return {
    animation: false,
    backgroundColor: "#ffffff",
    grid: GRIDS.map((g) => ({ ...g, containLabel: false, outerBoundsMode: "none" })),
    xAxis: xAxes,
    yAxis: yAxes,
    legend: legends,
    series,
    graphic: [
      {
        type: "rect", z: 5,
        shape: { x: 64.5, y: 45.5, width: 177, height: 92 },
        style: { fill: "rgba(255,255,255,0.8)", stroke: "#333", lineWidth: 1 },
      },
      titleStyle(TITLE_TOP, 25),
      titleStyle(TITLE_MID, 381),
      titleStyle(TITLE_BOT, 547),
    ],
  };
}

export default function App() {
  const ref = useRef<HTMLDivElement>(null);
  useEffect(() => {
    document.body.style.margin = "0";
    if (!ref.current) return;
    const chart = echarts.init(ref.current, undefined, { renderer: "svg" });
    chart.setOption(buildOption());
    return () => chart.dispose();
  }, []);
  return <div ref={ref} style={{ width: 1400, height: 700 }} />;
}
